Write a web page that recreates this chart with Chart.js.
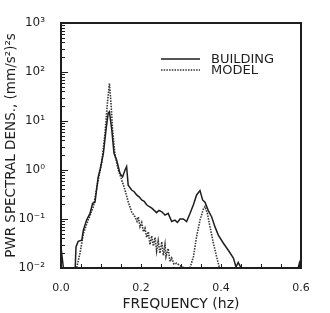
<!DOCTYPE html>
<html>
<head>
<meta charset="UTF-8">
<script src="https://cdn.jsdelivr.net/npm/chart.js"></script>
<style>
  body { margin: 0; background: #fff; }
  canvas { display: block; }
</style>
</head>
<body>
<canvas id="grafico" width="330" height="313"></canvas>
<script>
// frequencias (hz) e densidade espectral
const freqBuilding = [0, 0.006, 0.012, 0.035, 0.0375, 0.043, 0.052, 0.056, 0.064, 0.0725, 0.079, 0.085, 0.093, 0.0975,
  0.106, 0.1125, 0.118, 0.121, 0.127, 0.1325, 0.139, 0.1475, 0.154, 0.16, 0.164, 0.168, 0.1767, 0.183, 0.189, 0.196,
  0.2017, 0.208, 0.214, 0.22, 0.227, 0.233, 0.239, 0.245, 0.252, 0.26, 0.268, 0.2767, 0.285, 0.291, 0.2975, 0.306,
  0.314, 0.3225, 0.331, 0.339, 0.3475, 0.354, 0.36, 0.368, 0.3767, 0.385, 0.3933, 0.406, 0.4183, 0.431, 0.4375,
  0.443, 0.4517, 0.46, 0.59, 0.596, 0.6];
const psdBuilding = [0.027, 0.010, 0.008, 0.008, 0.027, 0.035, 0.037, 0.060, 0.095, 0.13, 0.21, 0.22, 0.72, 1.0,
  2.2, 6.6, 14.5, 15.5, 6.6, 2.2, 1.6, 0.85, 0.72, 1.0, 1.17, 0.49, 0.39, 0.36, 0.31, 0.28,
  0.245, 0.23, 0.195, 0.18, 0.166, 0.15, 0.135, 0.15, 0.14, 0.12, 0.13, 0.089, 0.095, 0.085, 0.10, 0.10,
  0.089, 0.13, 0.195, 0.31, 0.38, 0.245, 0.22, 0.15, 0.11, 0.069, 0.047, 0.032, 0.023, 0.016, 0.0105,
  0.013, 0.0095, 0.008, 0.008, 0.0126, 0.008];

const freqModel = [0.035, 0.039, 0.0475, 0.056, 0.068, 0.081, 0.093, 0.1017, 0.11, 0.116, 0.121, 0.125, 0.129,
  0.135, 0.1433, 0.1517, 0.16, 0.1683, 0.1767, 0.185, 0.19, 0.1933, 0.1975, 0.2017, 0.206, 0.21, 0.2142, 0.2183,
  0.2225, 0.2267, 0.231, 0.235, 0.239, 0.243, 0.2475, 0.252, 0.256, 0.26, 0.2625, 0.268, 0.2725, 0.2767, 0.2825,
  0.289, 0.301, 0.31, 0.3225, 0.331, 0.339, 0.3475, 0.356, 0.36, 0.366, 0.3725, 0.381, 0.389, 0.3975];
const psdModel = [0.008, 0.010, 0.02, 0.051, 0.095, 0.18, 0.63, 1.38, 5.6, 23, 59, 23, 6.6,
  2.0, 1.0, 0.63, 0.39, 0.22, 0.14, 0.11, 0.09, 0.11, 0.07, 0.085, 0.055, 0.065, 0.042, 0.055,
  0.03, 0.045, 0.028, 0.042, 0.022, 0.036, 0.02, 0.034, 0.018, 0.03, 0.017, 0.025, 0.0135, 0.016, 0.012,
  0.0125, 0.0107, 0.010, 0.010, 0.017, 0.044, 0.095, 0.16, 0.18, 0.13, 0.069, 0.032, 0.017, 0.009];

const xTickValues = [0, 0.2, 0.4, 0.6];
const xTickLabels = ['0.0', '0.2', '0.4', '0.6'];
const yTickValues = [0.01, 0.1, 1, 10, 100, 1000];
const yTickLabels = ['10\u207B\u00B2', '10\u207B\u00B9', '10\u2070', '10\u00B9', '10\u00B2', '10\u00B3'];

const tinta = '#1e1e1e';
const fonte = '"DejaVu Sans", sans-serif';

function pontos(xs, ys) {
  return xs.map(function (x, i) { return { x: x, y: ys[i] }; });
}

// marcas internas, moldura e legenda
const moldura = {
  id: 'moldura',
  afterDraw(chart) {
    const ctx = chart.ctx;
    const a = chart.chartArea;
    const sx = chart.scales.x;
    const sy = chart.scales.y;
    ctx.save();
    ctx.strokeStyle = tinta;
    ctx.lineWidth = 1;
    ctx.beginPath();
    for (let v = 0.05; v < 0.6; v += 0.05) {
      const px = Math.round(sx.getPixelForValue(v)) + 0.5;
      ctx.moveTo(px, a.bottom);
      ctx.lineTo(px, a.bottom - 4);
    }
    for (let d = -2; d < 3; d++) {
      for (let m = 1; m <= 9; m++) {
        const py = Math.round(sy.getPixelForValue(m * Math.pow(10, d))) + 0.5;
        const len = m === 1 ? 7 : 4;
        ctx.moveTo(a.left, py);
        ctx.lineTo(a.left + len, py);
      }
    }
    ctx.stroke();

    ctx.lineWidth = 2;
    ctx.strokeRect(a.left, a.top, a.right - a.left, a.bottom - a.top);

    // legenda
    const ds = chart.data.datasets;
    const lx = a.left + 100;
    const ly = [a.top + 36, a.top + 47];
    ctx.font = '13px ' + fonte;
    ctx.fillStyle = tinta;
    ctx.textBaseline = 'middle';
    for (let i = 0; i < ds.length; i++) {
      ctx.strokeStyle = ds[i].borderColor;
      ctx.lineWidth = ds[i].borderWidth;
      ctx.setLineDash(ds[i].borderDash || []);
      ctx.beginPath();
      ctx.moveTo(lx, ly[i]);
      ctx.lineTo(lx + 39, ly[i]);
      ctx.stroke();
      ctx.setLineDash([]);
      ctx.fillText(ds[i].label, lx + 50, ly[i] + 1);
    }
    ctx.restore();
  }
};

new Chart(document.getElementById('grafico'), {
  type: 'scatter',
  data: {
    datasets: [{
      label: 'BUILDING',
      data: pontos(freqBuilding, psdBuilding),
      showLine: true,
      borderColor: tinta,
      borderWidth: 1.5,
      pointRadius: 0,
      tension: 0
    }, {
      label: 'MODEL',
      data: pontos(freqModel, psdModel),
      showLine: true,
      borderColor: '#333',
      borderWidth: 1.6,
      borderDash: [1.5, 1.2],
      pointRadius: 0,
      tension: 0
    }]
  },
  options: {
    responsive: false,
    animation: false,
    layout: { padding: { left: 3, top: 23, right: 29, bottom: 0 } },
    plugins: { legend: { display: false }, tooltip: { enabled: false } },
    scales: {
      x: {
        type: 'linear',
        min: 0,
        max: 0.6,
        afterBuildTicks: function (s) { s.ticks = xTickValues.map(function (v) { return { value: v }; }); },
        afterFit: function (s) { s.height = 45; },
        ticks: {
          callback: function (v, i) { return xTickLabels[i]; },
          font: { family: fonte, size: 11 },
          color: tinta,
          maxRotation: 0,
          padding: 6
        },
        grid: { display: false },
        border: { display: false },
        title: {
          display: true,
          text: 'FREQUENCY (hz)',
          font: { family: fonte, size: 14 },
          color: tinta,
          padding: { top: 0, bottom: 0 }
        }
      },
      y: {
        type: 'logarithmic',
        min: 0.01,
        max: 1000,
        afterBuildTicks: function (s) { s.ticks = yTickValues.map(function (v) { return { value: v }; }); },
        afterFit: function (s) { s.width = 58; },
        ticks: {
          callback: function (v, i) { return yTickLabels[i]; },
          font: { family: fonte, size: 12 },
          color: tinta,
          padding: 8,
          autoSkip: false
        },
        grid: { display: false },
        border: { display: false },
        title: {
          display: true,
          text: 'PWR SPECTRAL DENS., (mm/s\u00B2)\u00B2s',
          font: { family: fonte, size: 13.5 },
          color: tinta,
          padding: { top: 0, bottom: 0 }
        }
      }
    }
  },
  plugins: [moldura]
});
</script>
</body>
</html>
